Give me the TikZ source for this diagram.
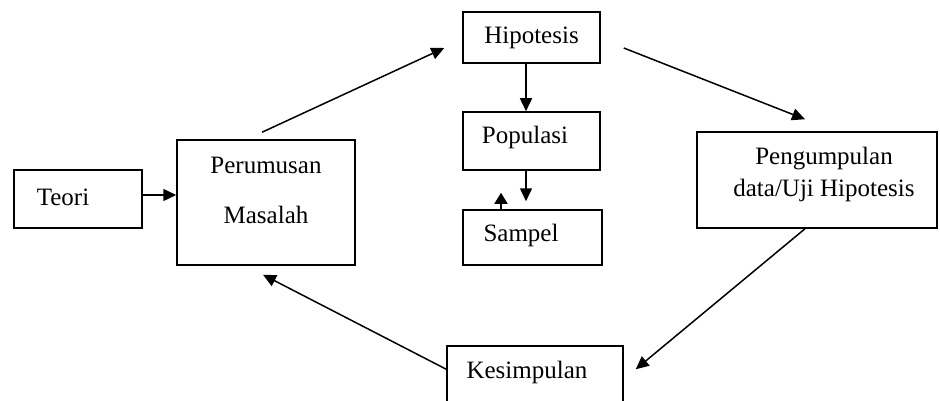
\documentclass[tikz,border=0pt]{standalone}
\usepackage{fontspec}
\setmainfont{Liberation Serif}
\usetikzlibrary{arrows.meta}

\begin{document}
\begin{tikzpicture}[x=1pt, y=-1pt,
	box/.style={draw, line width=1.5pt, rectangle, inner sep=0pt},
	txt/.style={inner sep=0pt, align=center, font=\fontsize{25}{30}\selectfont},
	arr/.style={line width=1.5pt, -{Triangle[length=13pt, width=12pt]}},
	shortarr/.style={line width=1.5pt, -{Triangle[length=11pt, width=13pt]}}]
	
	\useasboundingbox (0,0) rectangle (940,401);
	\clip (0,0) rectangle (940,401);
	
	% boxes
	\node[box, minimum width=128pt, minimum height=58pt] (teori) at (78,199) {};
	\node[box, minimum width=178pt, minimum height=125pt] (perumusan) at (266,202.5) {};
	\node[box, minimum width=137pt, minimum height=51pt] (hipotesis) at (531.5,37.5) {};
	\node[box, minimum width=137pt, minimum height=58pt] (populasi) at (531.5,141) {};
	\node[box, minimum width=139pt, minimum height=55pt] (sampel) at (532.5,237.5) {};
	\node[box, minimum width=240pt, minimum height=96pt] (pengumpulan) at (817,180) {};
	\node[box, minimum width=176pt, minimum height=84pt] (kesimpulan) at (535,388) {};
	
	% texts
	\node[txt] (teori-t) at ([shift={(-15,-2)}]teori.center) {Teori};
	\node[txt] (perumusan-t) at ([shift={(0,-12.5)}]perumusan.center) {Perumusan\\[20pt]Masalah};
	\node[txt] (hipotesis-t) at (hipotesis.center) {Hipotesis};
	\node[txt] (populasi-t) at ([shift={(-6.5,-4)}]populasi.center) {Populasi};
	\node[txt] (sampel-t) at ([shift={(-11.5,-2.5)}]sampel.center) {Sampel};
	\node[txt] (pengumpulan-t) at ([shift={(7,-6)}]pengumpulan.center) {Pengumpulan\\[2pt]data/Uji Hipotesis};
	\node[txt] (kesimpulan-t) at ([shift={(-8,0)}]kesimpulan.north |- 0,372) {Kesimpulan};
	
	% arrows
	\draw[arr] ([yshift=4pt]teori.east) -- ([yshift=4pt]teori.east -| perumusan.west);
	\draw[arr] ([shift={(-4,-7)}]perumusan.north) -- ([shift={(-18,10.5)}]hipotesis.west);
	\draw[arr] ([shift={(23,10.5)}]hipotesis.east) -- ([shift={(-12,-12)}]pengumpulan.north);
	\draw[arr] ([shift={(-12,0)}]pengumpulan.south) -- ([shift={(12,24)}]kesimpulan.north east);
	\draw[arr] ([shift={(0,24)}]kesimpulan.north west) -- ([shift={(-3,9)}]perumusan.south);
	
	\draw[arr] ([xshift=-5.5pt]hipotesis.south) -- ([xshift=-5.5pt]populasi.north);
	\draw[arr] ([xshift=-5.5pt]populasi.south) -- ([shift={(-6.5,-8)}]sampel.north);
	\draw[shortarr] ([xshift=-31.5pt]sampel.north) -- ([shift={(-30.5,22)}]populasi.south);
	
\end{tikzpicture}
\end{document}
